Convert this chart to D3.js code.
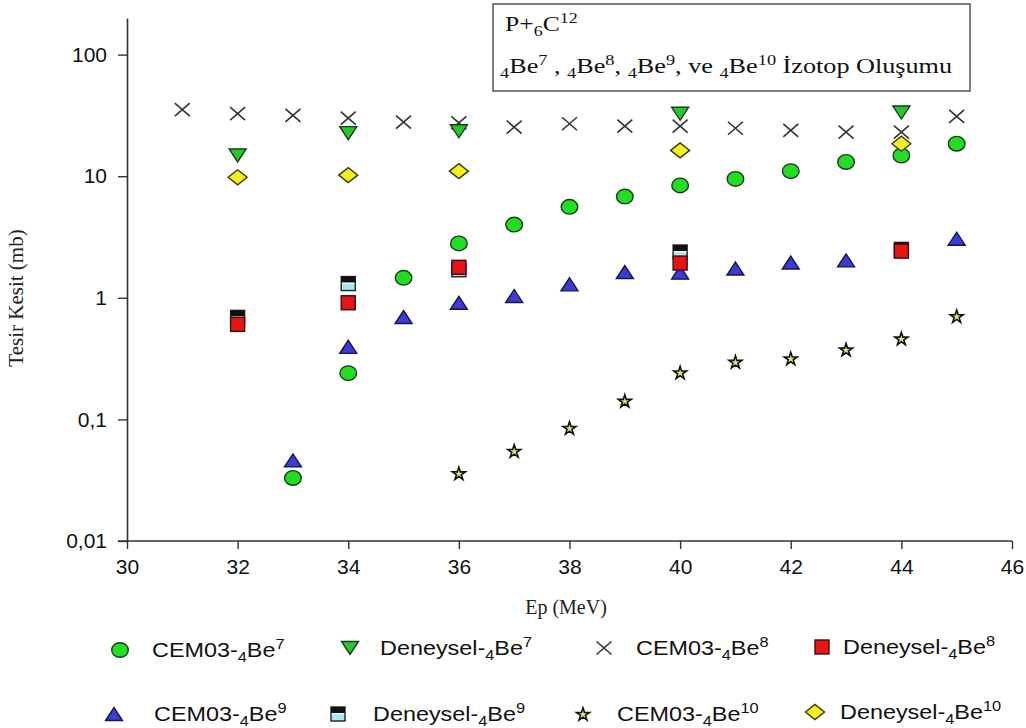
<!DOCTYPE html>
<html>
<head>
<meta charset="utf-8">
<script src="https://cdn.jsdelivr.net/npm/d3@7"></script>
<style>
html,body{margin:0;padding:0;background:#fff;}
svg{display:block;}
</style>
</head>
<body>
<svg id="chart" width="1026" height="728"></svg>
<script>
// ---------- DATA ----------
const xTicks = [30, 32, 34, 36, 38, 40, 42, 44, 46];
const xTickLabels = ["30", "32", "34", "36", "38", "40", "42", "44", "46"];
const yTicks = [0.01, 0.1, 1, 10, 100];
const yTickLabels = ["0,01", "0,1", "1", "10", "100"];

const cem03Be7_E = [33, 34, 35, 36, 37, 38, 39, 40, 41, 42, 43, 44, 45];
const cem03Be7_V = [0.033, 0.24, 1.46, 2.8, 4.0, 5.6, 6.8, 8.4, 9.5, 11.0, 13.1, 14.8, 18.5];

const denBe7_E = [32, 34, 36, 40, 44];
const denBe7_V = [14.8, 22.6, 23.4, 32.6, 33.4];

const cem03Be8_E = [31, 32, 33, 34, 35, 36, 37, 38, 39, 40, 41, 42, 43, 44, 45];
const cem03Be8_V = [35.3, 32.7, 31.6, 30.0, 27.8, 27.5, 25.3, 27.0, 25.8, 25.8, 24.8, 23.8, 23.0, 23.0, 31.1];

const denBe8_E = [32, 34, 36, 40, 44];
const denBe8_V = [0.605, 0.91, 1.78, 1.93, 2.42];

const cem03Be9_E = [33, 34, 35, 36, 37, 38, 39, 40, 41, 42, 43, 45];
const cem03Be9_V = [0.046, 0.395, 0.695, 0.91, 1.035, 1.29, 1.63, 1.61, 1.74, 1.95, 2.03, 3.06];

const denBe9_E = [32, 34, 36, 40, 44];
const denBe9_V = [0.69, 1.31, 1.70, 2.38, 2.5];

const cem03Be10_E = [36, 37, 38, 39, 40, 41, 42, 43, 44, 45];
const cem03Be10_V = [0.036, 0.055, 0.085, 0.142, 0.243, 0.297, 0.317, 0.375, 0.462, 0.705];

const denBe10_E = [32, 34, 36, 40, 44];
const denBe10_V = [9.8, 10.2, 11.0, 16.3, 18.5];

// legend labels: [prefix, subscript, base, superscript]
const legendLabels = [
  ["CEM03-", "4", "Be", "7"],
  ["Deneysel-", "4", "Be", "7"],
  ["CEM03-", "4", "Be", "8"],
  ["Deneysel-", "4", "Be", "8"],
  ["CEM03-", "4", "Be", "9"],
  ["Deneysel-", "4", "Be", "9"],
  ["CEM03-", "4", "Be", "10"],
  ["Deneysel-", "4", "Be", "10"]
];
const legendShapes = ["circle", "triDown", "cross", "redSquare", "triUp", "be9Square", "star", "diamond"];

const xTitle = "Ep (MeV)";
const yTitle = "Tesir Kesit (mb)";

// ---------- SETUP ----------
const svg = d3.select("#chart");
const x = d3.scaleLinear().domain([30, 46]).range([127, 1012]);
const y = d3.scaleLog().domain([0.01, 200]).range([541, 18]);

// ---------- MARKERS ----------
function drawMarker(g, shape) {
  switch (shape) {
    case "circle":
      g.append("ellipse").attr("rx", 8.3).attr("ry", 7.3)
        .attr("fill", "#22dd22").attr("stroke", "#1a3a1a").attr("stroke-width", 1.4);
      break;
    case "triDown":
      g.append("path").attr("d", "M-8.5,-6.5 L8.5,-6.5 L0,6.5 Z")
        .attr("fill", "#28c828").attr("stroke", "#1a3a1a").attr("stroke-width", 1.4);
      break;
    case "triUp":
      g.append("path").attr("d", "M-8.5,6.5 L8.5,6.5 L0,-6.5 Z")
        .attr("fill", "#3c3cd2").attr("stroke", "#141450").attr("stroke-width", 1.4);
      break;
    case "cross":
      g.append("path").attr("d", "M-7.5,-6.5 L7.5,6.5 M-7.5,6.5 L7.5,-6.5")
        .attr("fill", "none").attr("stroke", "#333").attr("stroke-width", 1.6);
      break;
    case "redSquare":
      g.append("rect").attr("x", -7).attr("y", -7).attr("width", 14).attr("height", 14)
        .attr("fill", "#e81414").attr("stroke", "#3a1010").attr("stroke-width", 1.4);
      break;
    case "be9Square":
      g.append("rect").attr("x", -7).attr("y", -7).attr("width", 14).attr("height", 14)
        .attr("fill", "#a8e8ee").attr("stroke", "#222").attr("stroke-width", 1.4);
      g.append("rect").attr("x", -7).attr("y", -7).attr("width", 14).attr("height", 6)
        .attr("fill", "#111");
      g.append("line").attr("x1", -6.3).attr("x2", 6.3).attr("y1", -0.3).attr("y2", -0.3)
        .attr("stroke", "#fff").attr("stroke-width", 1);
      break;
    case "star":
      g.append("path").attr("d", d3.symbol().type(d3.symbolStar).size(52)())
        .attr("transform", "translate(0,0.6)")
        .attr("fill", "#e4df78").attr("stroke", "#111").attr("stroke-width", 1.6);
      break;
    case "diamond":
      g.append("path").attr("d", "M-9.5,0 L0,-7.5 L9.5,0 L0,7.5 Z")
        .attr("fill", "#f5ef20").attr("stroke", "#3a3a10").attr("stroke-width", 1.4);
      break;
  }
}

function plotSeries(E, V, shape) {
  const pts = E.map((e, i) => ({ e, v: V[i] }));
  svg.append("g").selectAll("g").data(pts).join("g")
    .attr("transform", d => `translate(${x(d.e)},${y(d.v)})`)
    .each(function () { drawMarker(d3.select(this), shape); });
}

// ---------- AXES ----------
const xAxis = d3.axisBottom(x).tickValues(xTicks)
  .tickFormat((d, i) => xTickLabels[i]).tickSize(8).tickSizeOuter(0).tickPadding(10);
const yAxis = d3.axisLeft(y).tickValues(yTicks)
  .tickFormat((d, i) => yTickLabels[i]).tickSize(9).tickSizeOuter(0).tickPadding(11);

const gx = svg.append("g").attr("transform", "translate(0,541)").call(xAxis);
const gy = svg.append("g").attr("transform", "translate(127,0)").call(yAxis);
[gx, gy].forEach(g => {
  g.selectAll("path.domain").attr("stroke", "#333").attr("stroke-width", 1.6);
  g.selectAll(".tick line").attr("stroke", "#333").attr("stroke-width", 1.4);
  g.selectAll(".tick text").attr("font-family", "'Liberation Sans', Arial, sans-serif")
    .attr("font-size", 21).attr("fill", "#111");
});
gx.select("path.domain").attr("d", `M${x(30) - 9},0H${x(46)}`);

const serif = "'Liberation Serif', 'Times New Roman', serif";
// axis titles
svg.append("text").attr("x", 566).attr("y", 614).attr("text-anchor", "middle")
  .attr("font-family", serif).attr("font-size", 20)
  .attr("fill", "#222").text(xTitle);
svg.append("text").attr("transform", "translate(23,298) rotate(-90)").attr("text-anchor", "middle")
  .attr("font-family", serif).attr("font-size", 21)
  .attr("fill", "#222").text(yTitle);

// ---------- SERIES (draw order) ----------
plotSeries(cem03Be8_E, cem03Be8_V, "cross");
plotSeries(cem03Be7_E, cem03Be7_V, "circle");
plotSeries(cem03Be9_E, cem03Be9_V, "triUp");
plotSeries(denBe9_E, denBe9_V, "be9Square");
plotSeries(denBe8_E, denBe8_V, "redSquare");
plotSeries(denBe7_E, denBe7_V, "triDown");
plotSeries(cem03Be10_E, cem03Be10_V, "star");
plotSeries(denBe10_E, denBe10_V, "diamond");

// ---------- TITLE BOX ----------
const tb = svg.append("g");
tb.append("rect").attr("x", 493).attr("y", 4).attr("width", 477).attr("height", 87)
  .attr("fill", "#fff").attr("stroke", "#555").attr("stroke-width", 1.5);
const t1 = tb.append("text").attr("transform", "translate(505,31) scale(1.28,1)").attr("font-family", serif)
  .attr("font-size", 20).attr("fill", "#111");
t1.append("tspan").text("P+");
t1.append("tspan").attr("font-size", 14).attr("dy", 5).text("6");
t1.append("tspan").attr("dy", -5).text("C");
t1.append("tspan").attr("font-size", 14).attr("dy", -8).text("12");

const t2 = tb.append("text").attr("transform", "translate(500,73) scale(1.31,1)").attr("font-family", serif)
  .attr("font-size", 20).attr("fill", "#111");
function subSup(t, sub, base, sup, after) {
  t.append("tspan").attr("font-size", 14).attr("dy", 5).text(sub);
  t.append("tspan").attr("dy", -5).text(base);
  t.append("tspan").attr("font-size", 14).attr("dy", -8).text(sup);
  t.append("tspan").attr("dy", 8).text(after);
}
subSup(t2, "4", "Be", "7", " , ");
subSup(t2, "4", "Be", "8", ", ");
subSup(t2, "4", "Be", "9", ", ve ");
subSup(t2, "4", "Be", "10", " İzotop Oluşumu");

// ---------- LEGEND ----------
const legendPos = [
  [120, 650, 152], [350, 648, 380], [604, 648, 636], [822, 647, 843],
  [114, 714, 154], [338, 714, 373], [583, 714, 617], [815, 712, 840]
];
const lg = svg.append("g");
legendLabels.forEach((lab, i) => {
  const [mx, my, tx] = legendPos[i];
  const m = lg.append("g").attr("transform", `translate(${mx},${my})`);
  drawMarker(m, legendShapes[i]);
  const t = lg.append("text").attr("transform", `translate(${tx},${my + 7}) scale(1.17,1)`)
    .attr("font-family", "'Liberation Sans', Arial, sans-serif").attr("font-size", 20).attr("fill", "#111");
  t.append("tspan").text(lab[0]);
  t.append("tspan").attr("font-size", 14).attr("dy", 5).text(lab[1]);
  t.append("tspan").attr("dy", -5).text(lab[2]);
  t.append("tspan").attr("font-size", 14).attr("dy", -8).text(lab[3]);
});
</script>
</body>
</html>
